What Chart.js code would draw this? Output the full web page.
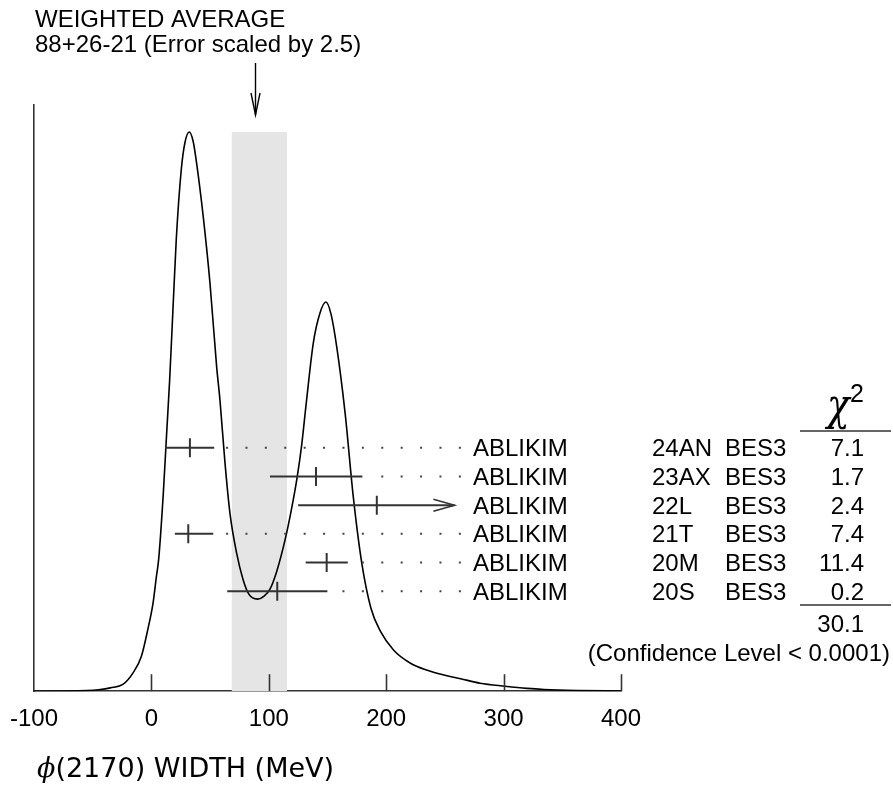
<!DOCTYPE html>
<html>
<head>
<meta charset="utf-8">
<script src="https://cdn.jsdelivr.net/npm/chart.js@4.4.1/dist/chart.umd.min.js"></script>
<style>
  html, body { margin: 0; padding: 0; background: #fff; }
  #wrap { width: 893px; height: 789px; }
</style>
</head>
<body>
<div id="wrap"><canvas id="c" width="893" height="789"></canvas></div>
<script>
Chart.defaults.font.family = "'Liberation Sans', Arial, sans-serif";

// x axis
const xTicks = [-100, 0, 100, 200, 300, 400];

// ideogram curve
const curveX = [-100, -70, -55, -45, -35, -24, -15.5, -8.5, -3, 1.4, 4.3, 6.2, 10, 13, 15.5, 18.3, 21.2, 25.5, 28.5, 32.2,
  35.5, 38.5, 44.2, 49.9, 55.6, 58.4, 62.7, 66.9, 72.6, 78, 83, 90.5, 96, 101, 106.8, 114, 119, 123.9, 128, 131.9,
  137.9, 143.6, 148.6, 153, 157.9, 165, 172, 179.2, 187, 195, 206.4, 220.7, 235, 250, 263.4, 280, 301.2, 320, 334.5, 363, 400];
const curveY = [0, 0.1, 0.6, 1.5, 3.3, 7, 18.5, 35, 62, 88, 115, 132, 195, 258, 310, 380, 452, 522, 548, 559,
  550, 528, 474, 408, 324, 291, 228, 178, 138, 112, 97, 92, 95, 102, 120, 152, 180, 212, 246, 288,
  348, 378, 389, 377, 344, 278, 194, 128, 83, 60, 41, 28, 21, 16, 12.5, 8, 5, 2.8, 1.7, 0.7, 0.2];

// weighted average + band
const avgValue = 88;
const avgLow = 68.3;
const avgHigh = 115.5;

// measurements
const authors = ['ABLIKIM', 'ABLIKIM', 'ABLIKIM', 'ABLIKIM', 'ABLIKIM', 'ABLIKIM'];
const refs = ['24AN', '23AX', '22L', '21T', '20M', '20S'];
const exps = ['BES3', 'BES3', 'BES3', 'BES3', 'BES3', 'BES3'];
const chi2 = ['7.1', '1.7', '2.4', '7.4', '11.4', '0.2'];
const centers = [32.8, 140.2, 192, 31.4, 149.3, 107.2];
const lows = [11.5, 101, 125, 20, 131.4, 64.6];
const highs = [53.5, 179.7, 258.2, 52.7, 167.3, 149.9];
const offScale = [false, false, true, false, false, false];
const chi2Total = '30.1';
const confLevel = '(Confidence Level < 0.0001)';

// layout
const ROW0 = 243.3, ROWSTEP = 28.67, TICKH = 9.5;
const DOT_END = 263.6;
const rowH = authors.map((a, i) => ROW0 - i * ROWSTEP);

const datasets = [];
datasets.push({
  data: curveX.map((x, i) => ({ x, y: curveY[i] })),
  borderColor: '#000', borderWidth: 1.6, pointRadius: 0, cubicInterpolationMode: 'monotone', order: 1
});
const bandTop = Math.max(...curveY);
datasets.push({
  data: [{ x: avgLow, y: bandTop }, { x: avgHigh, y: bandTop }],
  borderWidth: 0, borderColor: 'rgba(0,0,0,0)', backgroundColor: '#e5e5e5', fill: 'origin', pointRadius: 0, order: 9
});
rowH.forEach((h, i) => {
  const ebar = { borderColor: '#333', borderWidth: 2, pointRadius: 0, order: 0 };
  datasets.push(Object.assign({ data: [{ x: lows[i], y: h }, { x: highs[i], y: h }] }, ebar));
  datasets.push(Object.assign({ data: [{ x: centers[i], y: h - TICKH }, { x: centers[i], y: h + TICKH }] }, ebar));
  if (offScale[i]) {
    datasets.push(Object.assign({ data: [{ x: highs[i] - 18, y: h + 6 }, { x: highs[i], y: h }, { x: highs[i] - 18, y: h - 6 }] }, ebar, { borderWidth: 1.6 }));
  } else {
    datasets.push({
      data: [{ x: DOT_END, y: h }, { x: highs[i] + 9, y: h }],
      borderColor: '#444', borderWidth: 2, borderDash: [2, 17.4], pointRadius: 0, order: 0
    });
  }
});

const decorPlugin = {
  id: 'decor',
  afterDraw(chart) {
    const ctx = chart.ctx;
    const xs = chart.scales.x, ys = chart.scales.y;
    const base = ys.getPixelForValue(0);
    ctx.save();
    // inward tick marks
    ctx.strokeStyle = '#333';
    ctx.lineWidth = 1.6;
    xTicks.slice(1).forEach(v => {
      const px = Math.round(xs.getPixelForValue(v)) + 0.5;
      ctx.beginPath(); ctx.moveTo(px, base); ctx.lineTo(px, base - 17); ctx.stroke();
    });
    // weighted average arrow
    const ax = Math.round(xs.getPixelForValue(avgValue)) + 0.5;
    ctx.strokeStyle = '#000';
    ctx.lineWidth = 1.4;
    ctx.beginPath(); ctx.moveTo(ax, 63); ctx.lineTo(ax, 115); ctx.stroke();
    ctx.beginPath(); ctx.moveTo(ax - 4.5, 93); ctx.lineTo(ax, 115); ctx.lineTo(ax + 4.5, 93); ctx.stroke();

    ctx.fillStyle = '#000';
    ctx.font = "24px 'Liberation Sans', Arial, sans-serif";
    ctx.textBaseline = 'alphabetic';
    ctx.textAlign = 'left';
    ctx.fillText('WEIGHTED AVERAGE', 35, 27);
    ctx.fillText('88+26-21 (Error scaled by 2.5)', 35, 52);

    rowH.forEach((h, i) => {
      const y = ys.getPixelForValue(h) + 8.5;
      ctx.textAlign = 'left';
      ctx.fillText(authors[i], 473, y);
      ctx.fillText(refs[i], 652, y);
      ctx.fillText(exps[i], 725, y);
      ctx.textAlign = 'right';
      ctx.fillText(chi2[i], 864, y);
    });
    ctx.textAlign = 'right';
    ctx.fillText(chi2Total, 864, 632);
    ctx.fillText(confLevel, 890, 661);

    // chi^2 header
    ctx.save();
    ctx.translate(827, 420);
    ctx.scale(0.85, 1);
    ctx.textAlign = 'left';
    ctx.font = "italic 44px 'DejaVu Serif', serif";
    ctx.fillText('χ', 0, 0);
    ctx.restore();
    ctx.textAlign = 'left';
    ctx.font = "25px 'Liberation Sans', Arial, sans-serif";
    ctx.fillText('2', 850, 402);

    ctx.strokeStyle = '#333';
    ctx.lineWidth = 1.5;
    ctx.beginPath(); ctx.moveTo(800, 431); ctx.lineTo(891, 431); ctx.stroke();
    ctx.beginPath(); ctx.moveTo(800, 605); ctx.lineTo(891, 605); ctx.stroke();

    // axis title
    ctx.textAlign = 'left';
    ctx.font = "italic 27px 'DejaVu Serif', serif";
    ctx.fillText('ϕ', 37, 777);
    const w = ctx.measureText('ϕ').width;
    ctx.font = "27px 'DejaVu Sans', sans-serif";
    ctx.fillText('(2170) WIDTH (MeV)', 37 + w, 777);
    ctx.restore();
  }
};

new Chart(document.getElementById('c'), {
  type: 'line',
  data: { datasets },
  plugins: [decorPlugin],
  options: {
    responsive: false,
    animation: false,
    layout: { padding: { left: 34, right: 272, top: 105, bottom: 41 } },
    plugins: { legend: { display: false }, tooltip: { enabled: false } },
    scales: {
      x: {
        type: 'linear', min: -100, max: 400,
        afterBuildTicks: s => { s.ticks = xTicks.map(v => ({ value: v })); },
        afterFit: s => { s.paddingLeft = 0; s.paddingRight = 0; },
        ticks: { color: '#000', font: { size: 24 }, padding: 14, maxRotation: 0, autoSkip: false },
        grid: { display: false, drawTicks: false },
        border: { display: true, color: '#333', width: 1.6 }
      },
      y: {
        type: 'linear', min: 0, max: 586,
        ticks: { display: false },
        grid: { display: false, drawTicks: false },
        border: { display: true, color: '#333', width: 1.6 }
      }
    }
  }
});
</script>
</body>
</html>
